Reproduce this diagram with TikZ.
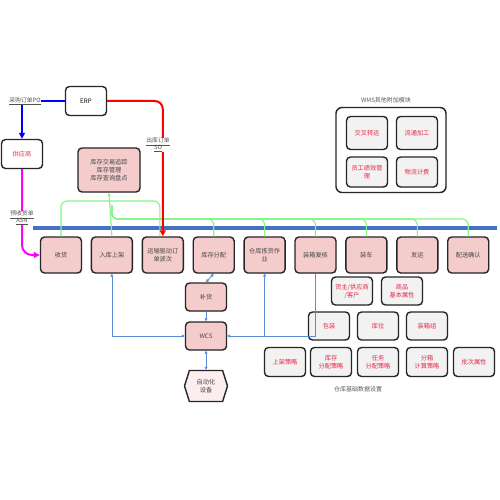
\documentclass[tikz,border=0pt]{standalone}
\usepackage{fontspec}
\setmainfont{Noto Sans CJK SC}
\usetikzlibrary{arrows.meta,positioning,shapes.symbols,shadows}
\definecolor{wmspink}{HTML}{F4CCCC}
\definecolor{wmsink}{HTML}{262626}
\definecolor{wmsred}{HTML}{E8274B}
\definecolor{wmsgray}{HTML}{F2F2F2}
\definecolor{wmsbar}{HTML}{4472C4}
\definecolor{wmsline}{HTML}{5B8BD6}
\definecolor{wmsgreen}{HTML}{85F585}
\definecolor{wmshex}{HTML}{FCEEEE}
\definecolor{wmsmag}{HTML}{FF00FF}
\definecolor{wmsblue}{HTML}{0000FF}
\definecolor{wmsso}{HTML}{FF0000}
\tikzset{
  flow/.style={draw=wmsink, line width=1.4pt, fill=wmspink, rounded corners=4pt, align=center, font=\fontsize{6.2}{8}\selectfont, text=wmsink!85, minimum width=41pt, minimum height=36pt, inner sep=1pt, drop shadow={shadow xshift=0.7pt, shadow yshift=-0.7pt, opacity=0.2}},
  small/.style={flow, minimum height=28pt},
  opt/.style={draw=wmsink, line width=1.4pt, fill=wmsgray, rounded corners=4pt, align=center, font=\fontsize{6.2}{8}\selectfont, text=wmsred, minimum width=41pt, minimum height=29pt, inner sep=1pt, drop shadow={shadow xshift=0.7pt, shadow yshift=-0.7pt, opacity=0.2}},
  plain/.style={draw=wmsink, line width=1.4pt, fill=white, rounded corners=4pt, align=center, font=\fontsize{6.2}{8}\selectfont, minimum width=41pt, minimum height=29pt, inner sep=1pt, drop shadow={shadow xshift=0.7pt, shadow yshift=-0.7pt, opacity=0.2}},
  tag/.style={fill=white, inner sep=0.5pt, align=center, font=\fontsize{5.8}{7}\selectfont, text=wmsink!80},
  note/.style={font=\fontsize{6}{7}\selectfont, text=wmsink!75},
  grn/.style={draw=wmsgreen, line width=1.1pt, rounded corners=6pt},
  bl/.style={draw=wmsline, line width=0.8pt},
  tip/.style={-{Triangle[length=3pt,width=3pt]}},
  bitip/.style={{Triangle[length=3pt,width=3pt]}-{Triangle[length=3pt,width=3pt]}},
  big/.style={line width=2pt, -{Triangle[length=6pt,width=6pt]}},
}
\begin{document}
\begin{tikzpicture}[x=1pt, y=-1pt, node distance=8.5pt]
  \useasboundingbox[fill=white] (0,0) rectangle (500,500);
  % flow row
  \node[flow] (sh) at (61,255) {收货};
  \node[flow, right=of sh] (rk) {入库上架};
  \node[flow, right=of rk] (bc) {运输驱动订\\单波次};
  \node[flow, right=of bc] (fp) {库存分配};
  \node[flow, right=of fp] (jh) {仓库拣货作\\业};
  \node[flow, right=of jh] (zx) {装箱复核};
  \node[flow, right=of zx] (zc) {装车};
  \node[flow, right=of zc] (fy) {发运};
  \node[flow, right=of fy] (ps) {配送确认};
  % upper left
  \node[plain, minimum height=29pt] (erp) at (86,101) {ERP};
  \node[plain, text=wmsred] (gys) at (22,154) {供应商};
  \node[flow, minimum width=62pt, minimum height=44pt] (kc) at (109,170) {库存交易追踪\\库存管理\\库存查询盘点};
  % wcs
  \node[small] (bh) at (206,297) {补货};
  \node[small] (wcs) at (206,336) {WCS};
  \node[draw=wmsink, line width=1.4pt, fill=wmshex, shape=signal, signal to=west and east, signal pointer angle=145, minimum width=43pt, minimum height=31pt, inner sep=1pt, align=center, font=\fontsize{6.2}{8}\selectfont, text=wmsink!85] (zd) at (206,386) {自动化\\设备};
  % other modules
  \node[plain, minimum width=110pt, minimum height=85pt, rounded corners=6pt] (mod) at (391,150) {};
  \node[note] (modt) at (386,100) {WMS其他附加模块};
  \node[opt, minimum height=33pt] (jc) at (367,133) {交叉转运};
  \node[opt, minimum height=33pt] (lt) at (417,133) {流通加工};
  \node[opt, minimum height=30pt] (yg) at (367,172) {员工绩效管\\理};
  \node[opt, minimum height=30pt] (wl) at (417,172) {物流计费};
  % base data
  \node[opt, minimum height=28pt] (hz) at (352,291) {货主/供应商\\/客户};
  \node[opt, minimum height=28pt] (sp) at (402,291) {商品\\基本属性};
  \node[opt, minimum height=28pt] (bz) at (329,326) {包装};
  \node[opt, minimum height=28pt] (kw) at (378,326) {库位};
  \node[opt, minimum height=28pt] (zxz) at (427,326) {装箱组};
  \node[opt] (sj) at (285,362) {上架策略};
  \node[opt] (kf) at (331,362) {库存\\分配策略};
  \node[opt] (rw) at (378,362) {任务\\分配策略};
  \node[opt] (fx) at (427,362) {分箱\\计算策略};
  \node[opt] (pc) at (474,362) {批次属性};
  \node[note] (jct) at (358,389) {仓库基础数据设置};
  % bus
  \coordinate (busl) at (33,228);
  \coordinate (busr) at (497,228);
  \draw[wmsbar, line width=4.5pt] (busl) -- (busr);
  % green links
  \draw[grn] (sh.north) -- (sh.north |- 0,201) -- ([xshift=-3pt]bc.north |- 0,201) -- ([xshift=-3pt]bc.north);
  \foreach \b in {fp,jh,zx,zc,fy,ps}
    \draw[grn] (\b.north) -- (\b.north |- 0,219) -- (rk.north |- 0,219) -- (rk.north |- 0,205);
  \draw[grn, tip] (rk.north) -- (kc.south);
  % erp lines
  \draw[wmsblue, big] (erp.west) -| (gys.north);
  \node[tag] (po) at (25,101) {\underline{采购订单PO}};
  \draw[wmsso, big, rounded corners=8pt] (erp.east) -| (bc.north);
  \node[tag] (so) at (158,145) {\underline{出库订单}\\\underline{SO}};
  \draw[wmsmag, big, rounded corners=10pt] (gys.south) |- (sh.west);
  \node[tag] (asn) at (22,218) {\underline{预收货单}\\\underline{ASN}};
  % wcs lines
  \draw[bl, bitip] (rk.south) |- (wcs.west);
  \draw[bl, bitip] (fp.south) -- (bh.north);
  \draw[bl, tip] (bh.south) -- (wcs.north);
  \coordinate (jx) at (jh.south |- wcs.east);
  \draw[bl, tip] (jx) -- (jh.south);
  \draw[bl, tip] (zx.south) |- (wcs.east);
  \draw[bl, bitip] (wcs.south) -- (zd.north);
\end{tikzpicture}
\end{document}
